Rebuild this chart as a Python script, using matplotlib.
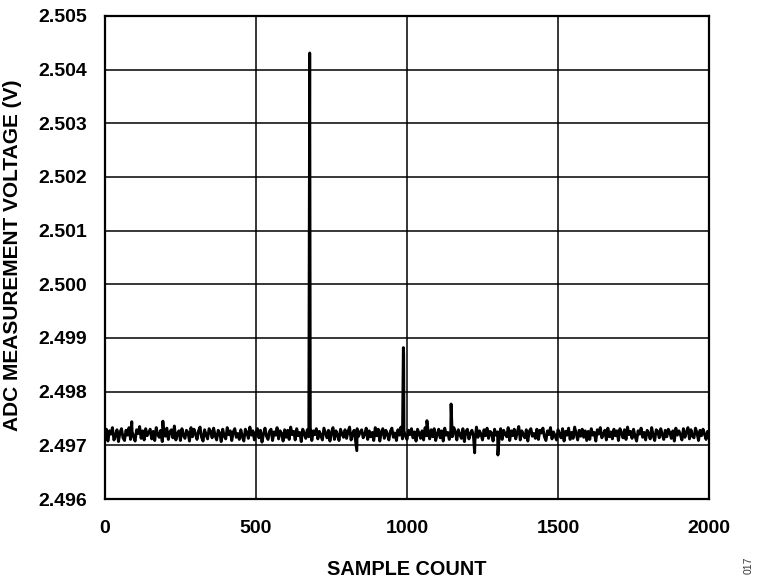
import matplotlib.pyplot as plt
import numpy as np

# Data: ADC readings, baseline noise read every 5 samples (volts)
noise_count = np.arange(0, 2001, 5)
noise_volts = [
    2.49712, 2.49730, 2.49708, 2.49727, 2.49721, 2.49733, 2.49710, 2.49718, 2.49729, 2.49707,
    2.49724, 2.49731, 2.49714, 2.49709, 2.49728, 2.49719, 2.49733, 2.49711, 2.49726, 2.49716,
    2.49708, 2.49729, 2.49722, 2.49735, 2.49713, 2.49727, 2.49710, 2.49731, 2.49718, 2.49724,
    2.49730, 2.49712, 2.49726, 2.49709, 2.49733, 2.49720, 2.49715, 2.49728, 2.49707, 2.49723,
    2.49717, 2.49732, 2.49711, 2.49725, 2.49729, 2.49714, 2.49736, 2.49710, 2.49722, 2.49727,
    2.49709, 2.49731, 2.49719, 2.49713, 2.49728, 2.49724, 2.49708, 2.49733, 2.49716, 2.49730,
    2.49721, 2.49711, 2.49727, 2.49734, 2.49715, 2.49708, 2.49729, 2.49720, 2.49712, 2.49731,
    2.49726, 2.49714, 2.49732, 2.49718, 2.49710, 2.49728, 2.49723, 2.49707, 2.49730, 2.49717,
    2.49712, 2.49733, 2.49720, 2.49727, 2.49709, 2.49725, 2.49731, 2.49715, 2.49722, 2.49711,
    2.49729, 2.49716, 2.49708, 2.49730, 2.49724, 2.49713, 2.49734, 2.49719, 2.49727, 2.49710,
    2.49723, 2.49731, 2.49714, 2.49728, 2.49706, 2.49721, 2.49732, 2.49717, 2.49711, 2.49726,
    2.49730, 2.49709, 2.49725, 2.49719, 2.49733, 2.49712, 2.49727, 2.49722, 2.49708, 2.49729,
    2.49715, 2.49728, 2.49711, 2.49734, 2.49720, 2.49726, 2.49710, 2.49731, 2.49718, 2.49724,
    2.49707, 2.49730, 2.49722, 2.49713, 2.49729, 2.49716, 2.49733, 2.49709, 2.49727, 2.49720,
    2.49731, 2.49712, 2.49726, 2.49718, 2.49710, 2.49732, 2.49723, 2.49714, 2.49728, 2.49708,
    2.49724, 2.49733, 2.49711, 2.49727, 2.49719, 2.49709, 2.49730, 2.49721, 2.49715, 2.49729,
    2.49713, 2.49726, 2.49734, 2.49710, 2.49722, 2.49728, 2.49707, 2.49731, 2.49717, 2.49725,
    2.49729, 2.49714, 2.49720, 2.49732, 2.49711, 2.49727, 2.49716, 2.49724, 2.49709, 2.49733,
    2.49718, 2.49730, 2.49708, 2.49725, 2.49731, 2.49713, 2.49728, 2.49721, 2.49710, 2.49726,
    2.49732, 2.49715, 2.49723, 2.49709, 2.49729, 2.49719, 2.49734, 2.49712, 2.49727, 2.49717,
    2.49711, 2.49728, 2.49720, 2.49731, 2.49714, 2.49725, 2.49708, 2.49730, 2.49722, 2.49713,
    2.49727, 2.49710, 2.49733, 2.49718, 2.49726, 2.49712, 2.49729, 2.49716, 2.49731, 2.49709,
    2.49721, 2.49730, 2.49714, 2.49727, 2.49708, 2.49732, 2.49719, 2.49724, 2.49711, 2.49728,
    2.49716, 2.49733, 2.49725, 2.49710, 2.49729, 2.49720, 2.49713, 2.49731, 2.49707, 2.49726,
    2.49730, 2.49712, 2.49722, 2.49728, 2.49717, 2.49709, 2.49734, 2.49715, 2.49727, 2.49721,
    2.49710, 2.49729, 2.49718, 2.49732, 2.49713, 2.49726, 2.49723, 2.49708, 2.49730, 2.49719,
    2.49725, 2.49714, 2.49731, 2.49711, 2.49728, 2.49721, 2.49716, 2.49733, 2.49709, 2.49727,
    2.49718, 2.49730, 2.49712, 2.49724, 2.49735, 2.49710, 2.49727, 2.49720, 2.49714, 2.49729,
    2.49708, 2.49726, 2.49731, 2.49717, 2.49722, 2.49713, 2.49730, 2.49711, 2.49728, 2.49723,
    2.49732, 2.49716, 2.49709, 2.49727, 2.49720, 2.49733, 2.49712, 2.49725, 2.49718, 2.49710,
    2.49729, 2.49721, 2.49714, 2.49731, 2.49708, 2.49726, 2.49719, 2.49732, 2.49711, 2.49724,
    2.49713, 2.49734, 2.49722, 2.49710, 2.49728, 2.49717, 2.49730, 2.49715, 2.49727, 2.49709,
    2.49726, 2.49711, 2.49731, 2.49719, 2.49724, 2.49708, 2.49729, 2.49721, 2.49733, 2.49714,
    2.49720, 2.49728, 2.49710, 2.49732, 2.49716, 2.49725, 2.49712, 2.49730, 2.49718, 2.49727,
    2.49709, 2.49731, 2.49723, 2.49714, 2.49729, 2.49711, 2.49734, 2.49720, 2.49726, 2.49713,
    2.49730, 2.49717, 2.49708, 2.49727, 2.49721, 2.49732, 2.49715, 2.49724, 2.49710, 2.49728,
    2.49722, 2.49712, 2.49733, 2.49718, 2.49709, 2.49729, 2.49726, 2.49714, 2.49731, 2.49720,
    2.49711, 2.49728, 2.49716, 2.49730, 2.49724, 2.49713, 2.49727, 2.49708, 2.49732, 2.49719,
    2.49727, 2.49720, 2.49710, 2.49731, 2.49715, 2.49725, 2.49733, 2.49712, 2.49729, 2.49717,
    2.49714, 2.49732, 2.49723, 2.49709, 2.49728, 2.49718, 2.49730, 2.49721, 2.49711, 2.49726,
    2.49720,
]

# spikes and glitches
event_count = [89, 192, 678, 679, 834, 988, 989, 1066, 1146, 1224, 1301]
event_volts = [2.49744, 2.49745, 2.50431, 2.50075, 2.49690, 2.49882, 2.49870,
               2.49746, 2.49777, 2.49686, 2.49682]

x_ticks = [0, 500, 1000, 1500, 2000]
y_ticks = [2.496, 2.497, 2.498, 2.499, 2.500, 2.501, 2.502, 2.503, 2.504, 2.505]

x = np.concatenate([noise_count, event_count])
y = np.concatenate([noise_volts, event_volts])
order = np.argsort(x, kind='stable')
x, y = x[order], y[order]

plt.rcParams['font.family'] = ['Liberation Sans', 'DejaVu Sans']

fig = plt.figure(figsize=(7.6, 5.82), dpi=100)
ax = fig.add_axes([0.138, 0.1426, 0.795, 0.83])

ax.plot(x, y, color='black', lw=2.1, zorder=3)

ax.set_xlim(0, 2000)
ax.set_ylim(2.496, 2.505)
ax.set_xticks(x_ticks)
ax.set_yticks(y_ticks)
ax.set_yticklabels([f'{v:.3f}' for v in y_ticks])
ax.grid(True, color='black', lw=1.1, zorder=1)
ax.tick_params(length=0, labelsize=14)
ax.tick_params(axis='x', pad=15)
ax.tick_params(axis='y', pad=13)
for lbl in ax.get_xticklabels() + ax.get_yticklabels():
    lbl.set_fontweight('bold')
for s in ax.spines.values():
    s.set_linewidth(1.6)

ax.set_xlabel('SAMPLE COUNT', fontsize=14.3, fontweight='bold')
ax.set_ylabel('ADC MEASUREMENT VOLTAGE (V)', fontsize=15, fontweight='bold')
ax.xaxis.set_label_coords(0.5, -0.126)
ax.xaxis.label.set_va('top')
ax.yaxis.set_label_coords(-0.137, 0.505)

fig.text(0.985, 0.028, '017', rotation=90, fontsize=7.5, color='#333333',
         ha='center', va='center')

fig.savefig('out.png', dpi=100)
